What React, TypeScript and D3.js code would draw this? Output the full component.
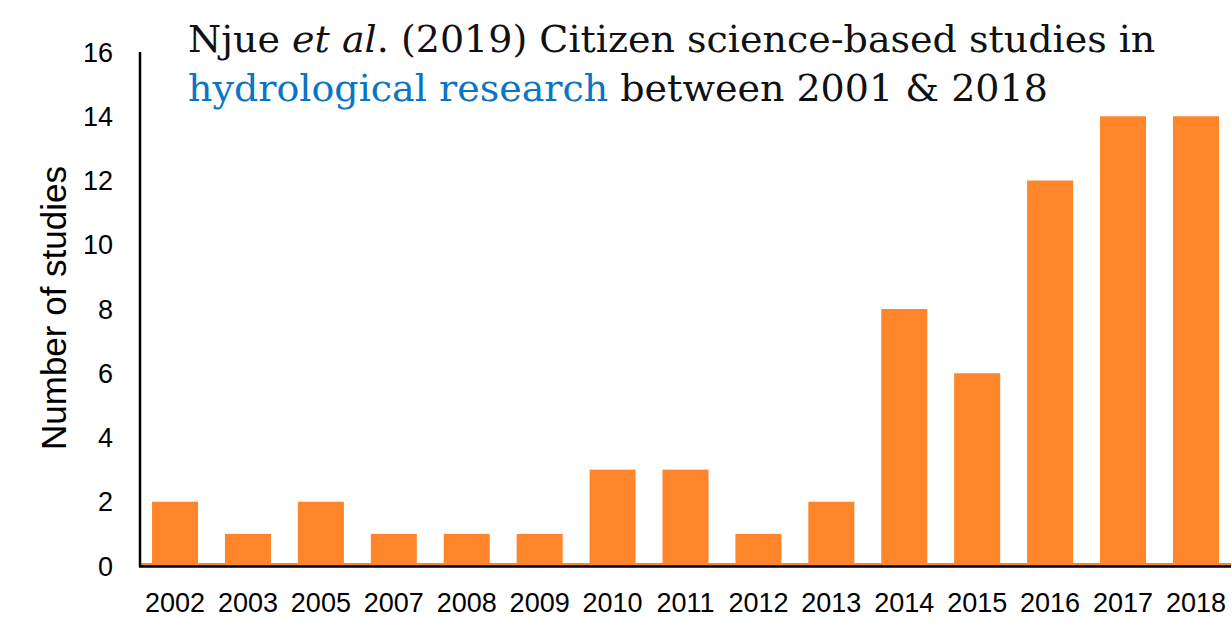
import React from "react";
import * as d3 from "d3";

const years = ["2002","2003","2005","2007","2008","2009","2010","2011","2012","2013","2014","2015","2016","2017","2018"];
const studies = [2,1,2,1,1,1,3,3,1,2,8,6,12,14,14];
const yTicks = [0,2,4,6,8,10,12,14,16];

const W = 1232, H = 628;
const ORANGE = "#FF852B";

export default function App() {
  const x = d3.scaleBand<string>().domain(years).range([140, 1231]).paddingInner(0.369).paddingOuter(0.165);
  const y = d3.scaleLinear().domain([0, 16]).range([566, 52]);
  const sans = "'Liberation Sans', Arial, sans-serif";
  const serif = "'DejaVu Serif', serif";
  return (
    <svg width={W} height={H} style={{ position: "absolute", left: 0, top: 0, background: "#fff" }}>
      <rect x={0} y={0} width={W} height={H} fill="#fff" />
      <rect x={140} y={y(0) - 3} width={1231 - 140} height={3} fill={ORANGE} />
      {years.map((yr, i) => (
        <rect key={yr} x={x(yr)} y={y(studies[i])} width={x.bandwidth()} height={y(0) - y(studies[i])} fill={ORANGE} />
      ))}
      <line x1={140} x2={140} y1={52} y2={567} stroke="#000" strokeWidth={2.5} />
      <line x1={139} x2={1231} y1={566.5} y2={566.5} stroke="#000" strokeWidth={2.5} />
      {yTicks.map(t => (
        <text key={t} x={113} y={y(t)} dy="0.36em" textAnchor="end" fontFamily={sans} fontSize={27} fill="#000">{t}</text>
      ))}
      {years.map(yr => (
        <text key={yr} x={(x(yr) as number) + x.bandwidth() / 2} y={612} textAnchor="middle" fontFamily={sans} fontSize={27} fill="#000">{yr}</text>
      ))}
      <text transform="translate(66,308) rotate(-90)" textAnchor="middle" fontFamily={sans} fontSize={35} fill="#000">Number of studies</text>
      <text x={188} y={52} fontFamily={serif} fontSize={38} fill="#111">
        Njue <tspan fontStyle="italic">et al</tspan>. (2019) Citizen science-based studies in
      </text>
      <text x={188} y={101} fontFamily={serif} fontSize={38} fill="#111">
        <tspan fill="#0b74c4">hydrological research</tspan> between 2001 &amp; 2018
      </text>
    </svg>
  );
}
